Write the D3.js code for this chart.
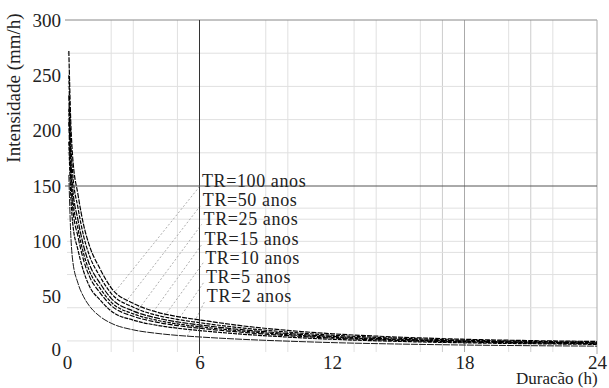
<!DOCTYPE html>
<html>
<head>
<meta charset="utf-8">
<script src="https://cdn.jsdelivr.net/npm/d3@7/dist/d3.min.js"></script>
<style>
  html, body { margin: 0; padding: 0; background: #fff; }
  svg { display: block; font-family: "Liberation Serif", "DejaVu Serif", serif; }
</style>
</head>
<body>
<div id="root"></div>
<script>
const durations = [0.083, 0.167, 0.25, 0.5, 0.75, 1, 1.5, 2, 3, 4, 5, 6, 8, 10, 12, 15, 18, 21, 24];

// intensity (mm/h) per return period
const tr100 = [272, 210, 178, 142, 115, 97, 75, 58, 44, 36.5, 32, 29, 23.5, 19.5, 16.5, 13.5, 11.5, 10.3, 9.5];
const tr50  = [250, 193, 163, 130, 105, 88, 68, 53, 40.5, 33.5, 29.5, 26.5, 21.6, 18, 15.2, 12.5, 10.7, 9.6, 8.9];
const tr25  = [232, 178, 150, 119, 96, 80, 62, 48.5, 37, 31, 27.2, 24.5, 20, 16.7, 14.1, 11.6, 10, 9, 8.3];
const tr15  = [220, 168, 141, 111, 89, 74, 57.5, 45, 34.5, 29, 25.4, 22.9, 18.8, 15.7, 13.3, 11, 9.5, 8.5, 7.9];
const tr10  = [208, 158, 132, 104, 83, 69, 53.5, 42, 32.3, 27.2, 23.9, 21.5, 17.7, 14.8, 12.6, 10.4, 9, 8.1, 7.5];
const tr5   = [190, 143, 118, 92, 73, 60, 47, 37, 28.8, 24.4, 21.5, 19.4, 16, 13.5, 11.5, 9.6, 8.3, 7.5, 6.9];
const tr2   = [160, 108, 84, 62, 50, 42, 32, 26, 20, 17, 15, 13.6, 11.4, 9.8, 8.5, 7.2, 6.3, 5.7, 5.3];

const seriesNames = ["TR=100 anos", "TR=50 anos", "TR=25 anos", "TR=15 anos", "TR=10 anos", "TR=5 anos", "TR=2 anos"];
const seriesValues = [tr100, tr50, tr25, tr15, tr10, tr5, tr2];
// duration where each label's leader meets its curve
const leaderAt = [2.2, 2.65, 3.15, 3.7, 4.2, 4.8, 5.45];

const xTicks = [0, 6, 12, 18, 24];
const yTicks = [0, 50, 100, 150, 200, 250, 300];
const xGrid = [2, 3, 5, 9, 10, 13, 14, 16, 20, 22];
const xGridMid = [17, 21];
const yGrid = [10, 40, 70, 90, 100, 120, 130, 180, 210, 240, 270];

const W = 609, H = 388;
const mLeft = 67, mRight = 597, mTop = 20, mBottom = 352;

const svg = d3.select("#root")
  .append("svg")
    .attr("width", W)
    .attr("height", H);

const x = d3.scaleLinear().domain([0, 24]).range([mLeft, mRight]);
const y = d3.scaleLinear().domain([0, 300]).range([mBottom, mTop]);

// light grid
const grid = svg.append("g");
grid.selectAll("line.gx")
  .data(xGrid)
  .enter().append("line")
    .attr("x1", d => x(d)).attr("x2", d => x(d))
    .attr("y1", mTop).attr("y2", mBottom)
    .attr("stroke", "#e0e0e0").attr("stroke-width", 1);
grid.selectAll("line.gxm")
  .data(xGridMid)
  .enter().append("line")
    .attr("x1", d => x(d)).attr("x2", d => x(d))
    .attr("y1", mTop).attr("y2", mBottom)
    .attr("stroke", "#cccccc").attr("stroke-width", 1);
grid.selectAll("line.gy")
  .data(yGrid)
  .enter().append("line")
    .attr("x1", mLeft).attr("x2", mRight)
    .attr("y1", d => y(d)).attr("y2", d => y(d))
    .attr("stroke", "#e0e0e0").attr("stroke-width", 1);
grid.append("line")
  .attr("x1", x(18)).attr("x2", x(18))
  .attr("y1", mTop).attr("y2", mBottom)
  .attr("stroke", "#aaa");

// frame top and right
svg.append("line")
  .attr("x1", mLeft - 2).attr("x2", mRight)
  .attr("y1", y(300)).attr("y2", y(300))
  .attr("stroke", "#888");
svg.append("line")
  .attr("x1", mRight).attr("x2", mRight)
  .attr("y1", y(300)).attr("y2", mBottom + 2)
  .attr("stroke", "#aaa");

// linear read-off on a curve, for the leader ends
function valueAt(vals, t) {
  for (let i = 1; i < durations.length; i++) {
    if (t <= durations[i]) {
      const f = (t - durations[i - 1]) / (durations[i] - durations[i - 1]);
      return vals[i - 1] + f * (vals[i] - vals[i - 1]);
    }
  }
  return vals[vals.length - 1];
}

// labels
const labelBase = 187, labelStep = 19.2;
const labelX = i => 202 + i * 0.8;
const labelY = i => labelBase + i * labelStep;

// leader lines
svg.append("g")
  .selectAll("line")
  .data(seriesValues)
  .enter().append("line")
    .attr("x1", (d, i) => x(leaderAt[i]))
    .attr("y1", (d, i) => y(valueAt(d, leaderAt[i])))
    .attr("x2", (d, i) => labelX(i) - 2)
    .attr("y2", (d, i) => labelY(i) - 1)
    .attr("stroke", "#999")
    .attr("stroke-width", 0.8)
    .attr("stroke-dasharray", "2,2");

// curves
const dashes = ["5,1.2", "4,1.2", "6,1.2", "3.5,1.2", "5,1.5", "4,1", "7,1"];
const widths = [1.2, 1.2, 1.2, 1.2, 1.2, 1.2, 0.9];
const lineGen = d3.line()
  .x((d, i) => x(durations[i]))
  .y(d => y(d))
  .curve(d3.curveMonotoneX);

svg.append("g")
  .selectAll("path")
  .data(seriesValues)
  .enter().append("path")
    .attr("d", d => lineGen(d))
    .attr("fill", "none")
    .attr("stroke", "#000")
    .attr("stroke-width", (d, i) => widths[i])
    .attr("stroke-dasharray", (d, i) => dashes[i]);

// dark reference lines at 6 h and 150 mm/h
svg.append("line")
  .attr("x1", x(6)).attr("x2", x(6))
  .attr("y1", y(300)).attr("y2", mBottom + 2)
  .attr("stroke", "#333").attr("stroke-width", 1);
svg.append("line")
  .attr("x1", mLeft - 2).attr("x2", mRight)
  .attr("y1", y(150)).attr("y2", y(150))
  .attr("stroke", "#555").attr("stroke-width", 1);

svg.append("g")
  .selectAll("text")
  .data(seriesNames)
  .enter().append("text")
    .attr("x", (d, i) => labelX(i))
    .attr("y", (d, i) => labelY(i))
    .attr("font-size", 18)
    .attr("letter-spacing", 0.6)
    .attr("fill", "#222")
    .text(d => d);

// axes (labels only)
const yAxis = svg.append("g")
  .attr("transform", `translate(${mLeft},0)`)
  .call(d3.axisLeft(y).tickValues(yTicks).tickSize(0).tickPadding(6));
const xAxis = svg.append("g")
  .attr("transform", `translate(0,${mBottom})`)
  .call(d3.axisBottom(x).tickValues(xTicks).tickSize(0).tickPadding(4));
[yAxis, xAxis].forEach(g => {
  g.select(".domain").remove();
  g.selectAll("text")
    .attr("font-family", "Liberation Serif, serif")
    .attr("font-size", 19)
    .attr("fill", "#222");
});
yAxis.selectAll("text").filter(d => d === 0).attr("dy", "0.2em");

svg.append("text")
  .attr("transform", "translate(20,88) rotate(-90)")
  .attr("text-anchor", "middle")
  .attr("font-size", 19)
  .attr("fill", "#222")
  .text("Intensidade (mm/h)");

svg.append("text")
  .attr("x", 516)
  .attr("y", 384)
  .attr("font-size", 17)
  .attr("fill", "#222")
  .text("Duracão (h)");
</script>
</body>
</html>
